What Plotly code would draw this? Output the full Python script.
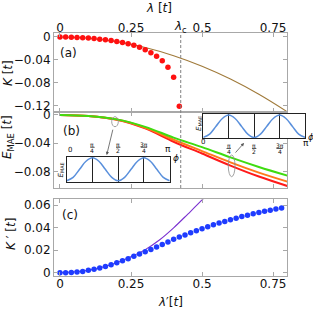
import plotly.graph_objects as go

# ---------------- data ----------------
lam_dots_a = [0.00, 0.02, 0.04, 0.06, 0.08, 0.10, 0.12, 0.14, 0.16, 0.18, 0.20,
              0.22, 0.24, 0.26, 0.28, 0.30, 0.32, 0.34, 0.36, 0.38, 0.40, 0.42]
K_dots = [0.0, -0.0002, -0.0004, -0.0007, -0.0012, -0.0018, -0.0027, -0.0038,
          -0.0050, -0.0063, -0.0078, -0.0095, -0.0117, -0.0145, -0.0180, -0.0223,
          -0.0275, -0.0336, -0.0418, -0.0530, -0.0705, -0.1215]

lam_line = [0.0, 0.1, 0.2, 0.3, 0.4, 0.5, 0.6, 0.7, 0.8]
K_line = [0.0, -0.0021, -0.0082, -0.0185, -0.0328, -0.0513, -0.0738, -0.1005, -0.1312]

E_green = [0.0, -0.0014, -0.0062, -0.0168, -0.0320, -0.0455, -0.0600, -0.0735, -0.0857]
E_orange = [0.0, -0.0015, -0.0065, -0.0180, -0.0350, -0.0510, -0.0670, -0.0815, -0.0942]
E_red = [0.0, -0.0015, -0.0067, -0.0190, -0.0378, -0.0545, -0.0715, -0.0870, -0.1003]

lam_dots_c = [0.00, 0.02, 0.04, 0.06, 0.08, 0.10, 0.12, 0.14, 0.16, 0.18,
              0.20, 0.22, 0.24, 0.26, 0.28, 0.30, 0.32, 0.34, 0.36, 0.38,
              0.40, 0.42, 0.44, 0.46, 0.48, 0.50, 0.52, 0.54, 0.56, 0.58,
              0.60, 0.62, 0.64, 0.66, 0.68, 0.70, 0.72, 0.74, 0.76, 0.78]
Kp_dots = [0.0, 0.0000, 0.0003, 0.0006, 0.0012, 0.0021, 0.0030, 0.0041, 0.0056, 0.0071,
           0.0088, 0.0106, 0.0124, 0.0145, 0.0165, 0.0186, 0.0207, 0.0228, 0.0250, 0.0273,
           0.0296, 0.0316, 0.0334, 0.0354, 0.0372, 0.0390, 0.0407, 0.0425, 0.0440, 0.0455,
           0.0469, 0.0484, 0.0499, 0.0510, 0.0522, 0.0534, 0.0546, 0.0555, 0.0564, 0.0573]

lam_line_c = [0.0, 0.1, 0.2, 0.25, 0.3, 0.35, 0.4, 0.45, 0.5, 0.55]
Kp_line = [0.0, 0.0022, 0.0089, 0.0142, 0.0205, 0.0290, 0.0398, 0.0520, 0.0645, 0.0780]

phi = [0.0, 0.196, 0.393, 0.589, 0.785, 0.982, 1.178, 1.374, 1.571,
       1.767, 1.963, 2.160, 2.356, 2.553, 2.749, 2.945, 3.142]
E_inset = [0.0, 0.15, 0.5, 0.85, 1.0, 0.85, 0.5, 0.15, 0.0,
           0.15, 0.5, 0.85, 1.0, 0.85, 0.5, 0.15, 0.0]

lam_c = 0.425
x_ticks = [0, 0.25, 0.5, 0.75]
x_ticktext = ["0", "0.25", "0.5", "0.75"]
ya_ticks = [0, -0.04, -0.08, -0.12]
ya_text = ["0", "\u22120.04", "\u22120.08", "\u22120.12"]
yb_ticks = [0, -0.04, -0.08]
yb_text = ["0", "\u22120.04", "\u22120.08"]
yc_ticks = [0, 0.02, 0.04, 0.06]
yc_text = ["0", "0.02", "0.04", "0.06"]
pi_ticks = [0.785, 1.571, 2.356]

# ---------------- layout geometry ----------------
W, H = 313, 309
L, R, T, B = 54, 5, 33, 33
PW, PH = W - L - R, H - T - B


def px(x):
    return (x - L) / PW


def py(y):
    return (H - B - y) / PH


FONT = "DejaVu Sans, Liberation Sans, Arial, sans-serif"
GRAY = "#a8a8a8"

fig = go.Figure()

# panel (a)
fig.add_trace(go.Scatter(x=lam_line, y=K_line, mode="lines", line=dict(color="#a07a3a", width=1.1, shape="spline"),
                         xaxis="x", yaxis="y"))
fig.add_trace(go.Scatter(x=lam_dots_a, y=K_dots, mode="markers", marker=dict(color="#ff1010", size=5.5),
                         xaxis="x", yaxis="y", cliponaxis=False))
# panel (b)
for ys, col in [(E_red, "#ff1a1a"), (E_orange, "#ff7a1a"), (E_green, "#3fdc10")]:
    fig.add_trace(go.Scatter(x=lam_line, y=ys, mode="lines", line=dict(color=col, width=2, shape="spline"),
                             xaxis="x2", yaxis="y2"))
# panel (c)
fig.add_trace(go.Scatter(x=lam_line_c, y=Kp_line, mode="lines", line=dict(color="#7a30d0", width=1.1, shape="spline"),
                         xaxis="x3", yaxis="y3"))
fig.add_trace(go.Scatter(x=lam_dots_c, y=Kp_dots, mode="markers", marker=dict(color="#1f3cff", size=5.5),
                         xaxis="x3", yaxis="y3", cliponaxis=False))
# insets
for xa, ya in [("x4", "y4"), ("x5", "y5")]:
    fig.add_trace(go.Scatter(x=phi, y=E_inset, mode="lines", line=dict(color="#5a90dc", width=1.5, shape="spline"),
                             xaxis=xa, yaxis=ya))

xr = [-0.021, 0.799]
xdom = [0, px(287)]
TICKFONT = dict(size=12, color="#111", family=FONT)
common_x = dict(range=xr, domain=xdom, showline=True, mirror="ticks", linecolor=GRAY, linewidth=1,
                ticks="inside", ticklen=4, tickcolor=GRAY, tickvals=x_ticks, ticktext=x_ticktext,
                showgrid=False, zeroline=False, tickfont=TICKFONT)
common_y = dict(showline=True, mirror="ticks", linecolor=GRAY, linewidth=1, ticks="inside", ticklen=4,
                tickcolor=GRAY, showgrid=False, zeroline=False, tickfont=TICKFONT)

inset_x = dict(range=[0, 3.1416], showline=True, mirror=True, linecolor="#222", linewidth=1.3,
               showticklabels=False, ticks="", tickvals=pi_ticks, showgrid=True, gridcolor="#222",
               gridwidth=1.3, zeroline=False)
inset_y = dict(range=[-0.04, 1.05], showline=True, mirror=True, linecolor="#222", linewidth=1.3,
               showticklabels=False, ticks="", showgrid=False, zeroline=False)

fig.update_layout(
    width=W, height=H, margin=dict(l=L, r=R, t=T, b=B),
    paper_bgcolor="white", plot_bgcolor="white", showlegend=False,
    font=dict(family=FONT, color="#111"),
    xaxis=dict(common_x, anchor="y", side="top", ticklabelstandoff=-5),
    yaxis=dict(common_y, domain=[py(112), 1], range=[-0.1316, 0.007], anchor="x",
               tickvals=ya_ticks, ticktext=ya_text),
    xaxis2=dict(common_x, anchor="y2", showticklabels=False),
    yaxis2=dict(common_y, domain=[py(188), py(112)], range=[-0.1032, 0.0042], anchor="x2",
                tickvals=yb_ticks, ticktext=yb_text),
    xaxis3=dict(common_x, anchor="y3", ticklabelstandoff=-3),
    yaxis3=dict(common_y, domain=[0, py(199.3)], range=[-0.0029, 0.0651], anchor="x3",
                tickvals=yc_ticks, ticktext=yc_text),
    xaxis4=dict(inset_x, domain=[px(66.7), px(169.7)], anchor="y4"),
    yaxis4=dict(inset_y, domain=[py(181.7), py(156.7)], anchor="x4"),
    xaxis5=dict(inset_x, domain=[px(203.3), px(305)], anchor="y5"),
    yaxis5=dict(inset_y, domain=[py(138.3), py(114)], anchor="x5"),
)

shapes = []
# lambda_c dashed line
shapes.append(dict(type="line", xref="x", yref="paper", x0=lam_c, x1=lam_c, y0=py(188), y1=py(33),
                   line=dict(color="#808080", width=1, dash="3px,2px")))
# ellipses
shapes.append(dict(type="circle", xref="paper", yref="paper", x0=px(111.7), x1=px(118.3),
                   y0=py(126.7), y1=py(116.7), line=dict(color="#8a8a8a", width=0.8)))
shapes.append(dict(type="circle", xref="paper", yref="paper", x0=px(228.3), x1=px(235),
                   y0=py(176.7), y1=py(155), line=dict(color="#8a8a8a", width=0.8)))

ann = []


def A(text, x, y, size=12, angle=0, xanchor="center", xref="paper", color="#111"):
    ann.append(dict(text=text, x=x, y=y, xref=xref, yref="paper", showarrow=False, textangle=angle,
                    xanchor=xanchor, yanchor="middle", font=dict(size=size, family=FONT, color=color)))


# axis titles
A("<i>\u03bb</i> [<i>t</i>]", px(159), py(8), 12)
A("<i>\u03bb</i>\u2032[<i>t</i>]", px(170), py(302), 12)
A("<i>K</i> [<i>t</i>]", px(8), py(73), 12, -90)
A("<i>E</i><sub>MAE</sub> [<i>t</i>]", px(8), py(137), 12, -90)
A("<i>K</i> \u2032 [<i>t</i>]", px(11), py(234), 12, -90)
A("<i>\u03bb</i><sub>c</sub>", lam_c, py(27), 12, xref="x")
# panel labels
A("(a)", px(58), py(52.5), 12, xanchor="left")
A("(b)", px(61), py(130.7), 12, xanchor="left")
A("(c)", px(60), py(215), 12, xanchor="left")

# inset labels: left inset (labels on top)
A("0", px(70), py(150), 7)
A("\u03c0", px(168.3), py(149), 9)
A("<i>\u03d5</i>", px(175.5), py(158), 9)
A("<i>E</i><sub>MAE</sub>", px(60.5), py(170), 7, -90)
# right inset (labels below)
A("0", px(203.3), py(142.2), 7)
A("\u03c0", px(305.5), py(143), 9)
A("<i>\u03d5</i>", px(311), py(136.5), 9)
A("<i>E</i><sub>MAE</sub>", px(199), py(124), 7, -90)

fracs = [("\u03c0", "4"), ("\u03c0", "2"), ("3\u03c0", "4")]
for (num, den), xv in zip(fracs, pi_ticks):
    for xa, (yn, yb, yd) in [("x4", (144.3, 147.3, 150.5)), ("x5", (145.6, 148.5, 151.6))]:
        A(num, xv, py(yn), 6, xref=xa)
        A(den, xv, py(yd), 6, xref=xa)
        hw = 2.2 if len(num) == 1 else 3.2
        shapes.append(dict(type="line", xref=xa, yref="paper", x0=xv - hw * 3.1416 / 103,
                           x1=xv + hw * 3.1416 / 103, y0=py(yb), y1=py(yb), line=dict(color="#111", width=0.7)))

# arrows from ellipses to insets
for (hx, hy), (tx, ty) in [((106.7, 155), (113.3, 127.7)), ((244, 143), (234, 154.3))]:
    ann.append(dict(x=px(hx), y=py(hy), xref="paper", yref="paper", ax=tx - hx, ay=ty - hy,
                    axref="pixel", ayref="pixel", showarrow=True, arrowhead=2, arrowsize=0.8,
                    arrowwidth=0.8, arrowcolor="#555", text=" ", font=dict(size=1)))

fig.update_layout(shapes=shapes, annotations=ann)
fig.write_html("out.html", config={"displayModeBar": False},
               post_script="document.body.style.margin='0';document.body.style.overflow='hidden';")
